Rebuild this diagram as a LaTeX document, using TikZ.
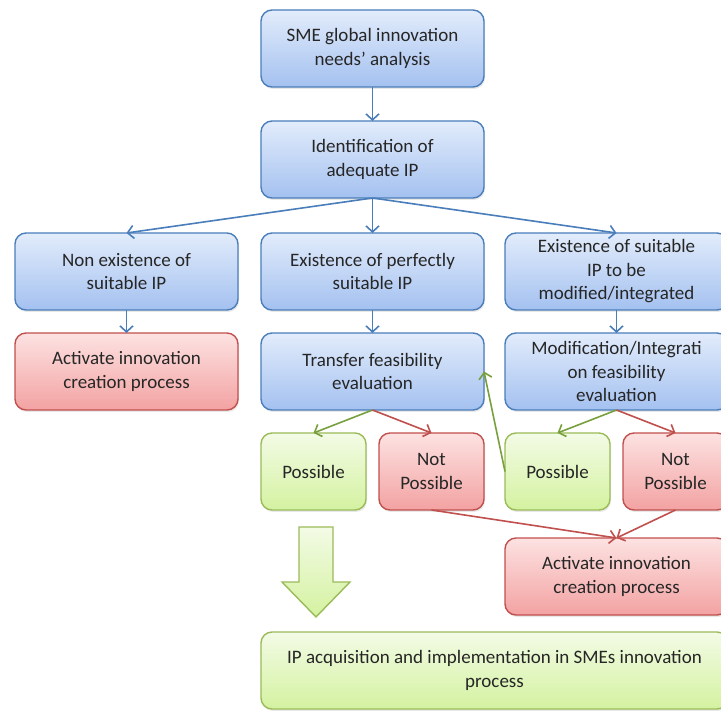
\documentclass[tikz,border=0pt]{standalone}
\usepackage{fontspec}
\setmainfont{Carlito}
\usetikzlibrary{positioning,arrows.meta,shadows}

\definecolor{blueline}{HTML}{4A7EBB}
\definecolor{bluetop}{HTML}{E2ECFB}
\definecolor{bluebot}{HTML}{A4C1F0}
\definecolor{redline}{HTML}{C0504D}
\definecolor{redtop}{HTML}{FDE2E2}
\definecolor{redbot}{HTML}{F3A2A2}
\definecolor{greenline}{HTML}{9BBB59}
\definecolor{greentop}{HTML}{F3FBE6}
\definecolor{greenbot}{HTML}{D4F2A0}
\definecolor{greenarrow}{HTML}{77A03C}
\definecolor{textgray}{HTML}{262626}

\begin{document}
\begin{tikzpicture}[
    x=1pt, y=1pt,
    box/.style={rectangle, draw, line width=1.4pt, rounded corners=11pt, minimum width=223pt, minimum height=77pt,
      outer sep=0pt, align=center, inner xsep=4pt, inner ysep=2pt, text=textgray, font=\fontsize{19}{23.5}\selectfont,
      drop shadow={opacity=0.18, shadow xshift=1pt, shadow yshift=-2pt}},
    bluebox/.style={box, draw=blueline, top color=bluetop, bottom color=bluebot},
    redbox/.style={box, draw=redline, top color=redtop, bottom color=redbot},
    greenbox/.style={box, draw=greenline, top color=greentop, bottom color=greenbot},
    half/.style={minimum width=105pt},
    flow/.style={-{Straight Barb[length=6pt,width=13pt]}, line width=1.6pt},
    bigarrow/.style={draw=greenline, line width=1.4pt, top color=greentop, bottom color=greenbot}
  ]

    \useasboundingbox (0,0) rectangle (721,-711);
    \clip (0,0) rectangle (721,-711);

    % Top: analysis and identification
    \node[bluebox] (needs) at (372.5,-48.5) {SME global innovation\\needs’ analysis};
    \node[bluebox, below=34pt of needs] (ident) {Identification of\\adequate IP};

    % Row 3: the three cases
    \node[bluebox, below=35pt of ident] (perfect) {Existence of perfectly\\suitable IP};
    \node[bluebox, left=23pt of perfect] (nonexist) {Non existence of\\suitable IP};
    \node[bluebox, right=21pt of perfect] (tomodify) {Existence of suitable\\IP to be\\modified/integrated};

    % Row 4: evaluations
    \node[redbox, below=23pt of nonexist] (activateA) {Activate innovation\\creation process};
    \node[bluebox, below=23pt of perfect] (transfer) {Transfer feasibility\\evaluation};
    \node[bluebox, below=23pt of tomodify] (modfeas) {Modification/Integrati\\on feasibility\\evaluation};

    % Row 5: outcomes
    \node[greenbox, half, below right=23pt and 0pt of transfer.south west] (possA) {Possible};
    \node[redbox, half, below left=23pt and 0pt of transfer.south east] (notA) {Not\\Possible};
    \node[greenbox, half, below right=23pt and 0pt of modfeas.south west] (possB) {Possible};
    \node[redbox, half, below left=23pt and 0pt of modfeas.south east] (notB) {Not\\Possible};

    \coordinate (rowfive) at (modfeas.south |- possB.south);
    \node[redbox, below=28pt of rowfive] (activateB) {Activate innovation\\creation process};

    % Result
    \node[greenbox, minimum width=467pt, below right=122pt and 0pt of possA.south west] (acquire)
      {IP acquisition and implementation in SMEs innovation\\process};

    % Big arrow
    \draw[bigarrow] ([shift={(-14.5,-17)}]possA.south) -- ++(34,0) -- ++(0,-55) -- ++(17,0)
      -- ++(-34,-35) -- ++(-34,35) -- ++(17,0) -- cycle;

    % Connectors
    \draw[flow, blueline] (needs) -- (ident);
    \draw[flow, blueline] (ident.south) -- (nonexist.north);
    \draw[flow, blueline] (ident.south) -- (perfect.north);
    \draw[flow, blueline] (ident.south) -- (tomodify.north);
    \draw[flow, blueline] (nonexist) -- (activateA);
    \draw[flow, blueline] (perfect) -- (transfer);
    \draw[flow, blueline] (tomodify) -- (modfeas);

    \draw[flow, greenarrow] (transfer.south) -- (possA.north);
    \draw[flow, redline] (transfer.south) -- (notA.north);
    \draw[flow, greenarrow] (modfeas.south) -- (possB.north);
    \draw[flow, redline] (modfeas.south) -- (notB.north);
    \draw[flow, greenarrow] (possB.west) -- (transfer.east);
    \draw[flow, redline] (notA.south) -- (activateB.north);
    \draw[flow, redline] (notB.south) -- (activateB.north);
  \end{tikzpicture}
\end{document}
